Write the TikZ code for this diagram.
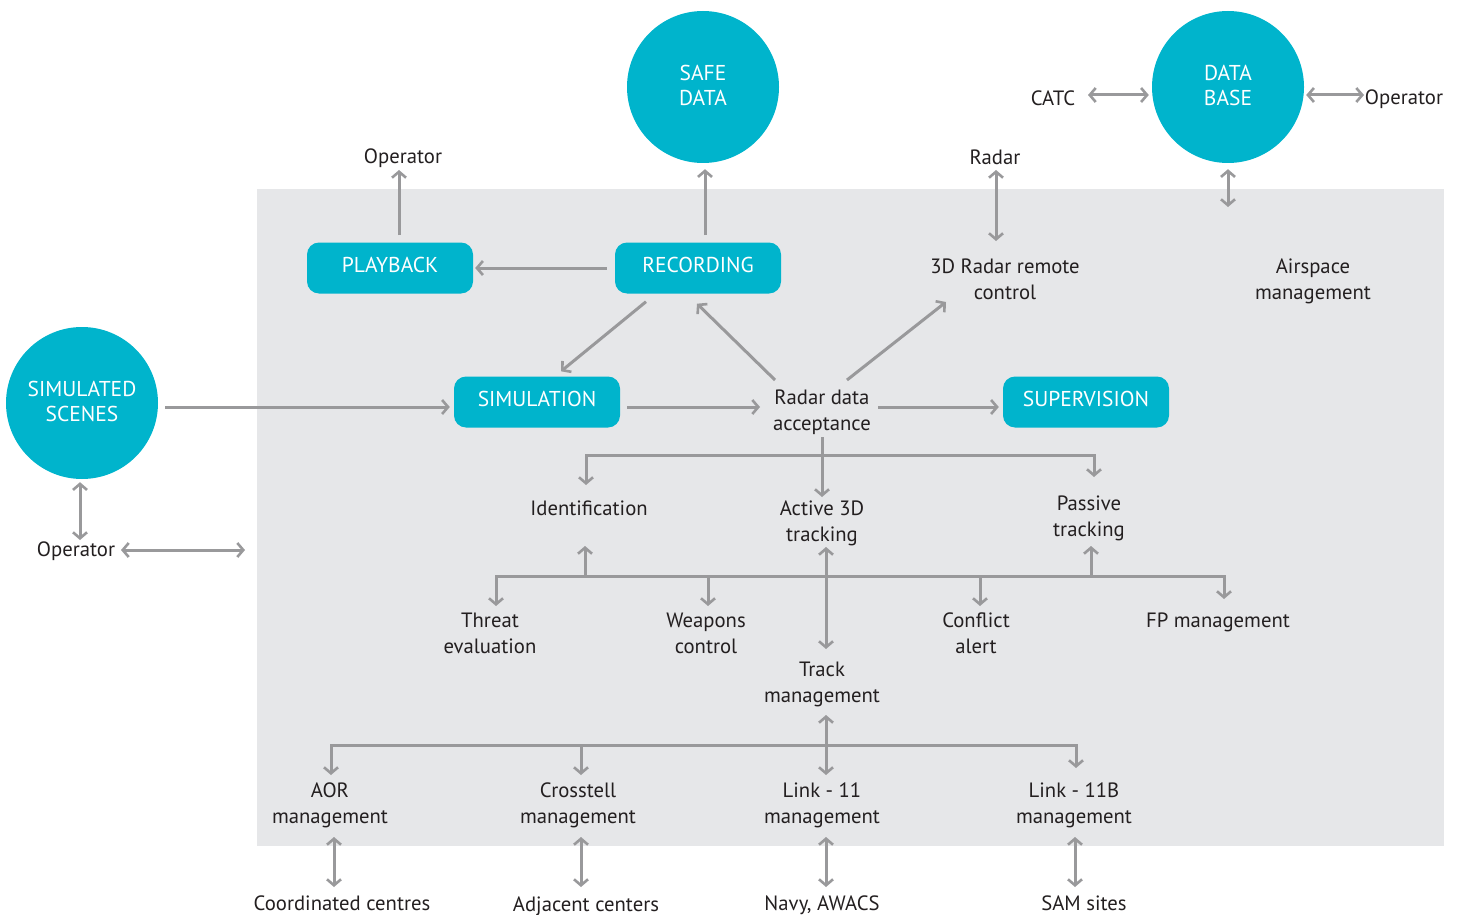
\documentclass[tikz,border=0pt]{standalone}
\usepackage{fontspec}
\setmainfont{PT Sans}
\usetikzlibrary{arrows.meta,calc}
\definecolor{teal}{RGB}{0,180,204}
\definecolor{bggray}{RGB}{230,231,233}
\definecolor{argray}{RGB}{153,153,155}
\definecolor{txt}{RGB}{35,31,32}
\tikzset{
  lbl/.style={inner sep=0pt, align=center, text=txt, font=\fontsize{20.7}{26}\selectfont},
  boxnode/.style={fill=teal, rounded corners=12pt, minimum width=166pt, minimum height=51pt, inner sep=0pt, text height=14pt, text depth=6pt, text=white, font=\fontsize{21.5}{26}\selectfont},
  circnode/.style={circle, fill=teal, minimum size=152pt, inner sep=0pt},
  circtext/.style={inner sep=0pt, align=center, text=white, font=\fontsize{21.5}{25}\selectfont},
  conn/.style={draw=argray, line width=3pt, -{Straight Barb[length=6pt,width=14pt,line width=2.6pt]}},
  bconn/.style={draw=argray, line width=3pt, {Straight Barb[length=6pt,width=14pt,line width=2.6pt]}-{Straight Barb[length=6pt,width=14pt,line width=2.6pt]}},
}
\begin{document}
\begin{tikzpicture}[x=1pt,y=-1pt]
\useasboundingbox (0,0) rectangle (1457,915);
\fill[bggray] (257,189) rectangle (1444,846);

% circles
\node[circnode] (safe) at (703,87) {};
\node[circtext] (safeT) at (703,85) {SAFE\\DATA};
\node[circnode] (db) at (1228,87) {};
\node[circtext] (dbT) at (1228,85) {DATA\\BASE};
\node[circnode] (sims) at (82,403) {};
\node[circtext] (simsT) at (82,401) {SIMULATED\\SCENES};

% boxes
\node[boxnode] (playback) at (390,268) {PLAYBACK};
\node[boxnode] (recording) at (698,268) {RECORDING};
\node[boxnode] (simulation) at (537,402) {SIMULATION};
\node[boxnode] (supervision) at (1086,402) {SUPERVISION};

% labels
\node[lbl] (opTop) at (403,158) {Operator};
\node[lbl] (radarTop) at (995,157) {Radar};
\node[lbl] (catc) at (1053,98) {CATC};
\node[lbl] (opRight) at (1404,99) {Operator};
\node[lbl] (rrc) at (1005,279) {3D Radar remote\\control};
\node[lbl] (airspace) at (1313,281) {Airspace\\management};
\node[lbl] (rda) at (822,412) {Radar data\\acceptance};
\node[lbl] (ident) at (589,508) {Identification};
\node[lbl] (active) at (822,523) {Active 3D\\tracking};
\node[lbl] (passive) at (1089,518) {Passive\\tracking};
\node[lbl] (threat) at (490,633) {Threat\\evaluation};
\node[lbl] (weapons) at (706,633) {Weapons\\control};
\node[lbl] (conflict) at (976,633) {Conflict\\alert};
\node[lbl] (fp) at (1218,622) {FP management};
\node[lbl] (track) at (822,684) {Track\\management};
\node[lbl] (aor) at (330,805) {AOR\\management};
\node[lbl] (cross) at (578,805) {Crosstell\\management};
\node[lbl] (link11) at (822,805) {Link - 11\\management};
\node[lbl] (link11b) at (1074,805) {Link - 11B\\management};
\node[lbl] (coord) at (342,903) {Coordinated centres};
\node[lbl] (adj) at (586,906) {Adjacent centers};
\node[lbl] (navy) at (822,905) {Navy, AWACS};
\node[lbl] (sam) at (1084,903) {SAM sites};
\node[lbl] (opLeft) at (76,551) {Operator};

\coordinate (dbEnd) at (1228,207);
\coordinate (opLeftEnd) at (245,550);

% top connectors
\draw[conn] ($(playback)+(9,-33)$) -- ($(opTop)+(-4,12)$);
\draw[conn] ($(recording)+(7,-33)$) -- ($(safe.south)+(2,6)$);
\draw[conn] ($(recording.west)+(-8,0)$) -- ($(playback.east)+(2,0)$);
\draw[conn] ($(recording.south)+(-52,8)$) -- ($(simulation.north)+(24,-5)$);
\draw[conn] ($(rda)+(-47,-32)$) -- ($(recording.south)+(-1,10)$);
\draw[conn] ($(rda)+(25,-32)$) -- ($(rrc)+(-59,23)$);
\draw[conn] ($(sims.east)+(7,4)$) -- ($(simulation.west)+(-4,5)$);
\draw[conn] ($(simulation.east)+(7,5)$) -- ($(rda)+(-62,-5)$);
\draw[conn] ($(rda)+(56,-5)$) -- ($(supervision.west)+(-4,5)$);
\draw[bconn] ($(radarTop)+(1,13)$) -- ($(rrc)+(-9,-38)$);
\draw[bconn] ($(db.south)+(0,6)$) -- (dbEnd);
\draw[bconn] ($(catc)+(35,-3)$) -- ($(db.west)+(-3,8)$);
\draw[bconn] ($(db.east)+(2,8)$) -- ($(opRight)+(-40,-4)$);
\draw[bconn] ($(sims.south)+(-2,3)$) -- ($(opLeft)+(4,-11)$);
\draw[bconn] ($(opLeft)+(45,-1)$) -- (opLeftEnd);

% tree 1
\draw[conn] ($(rda)+(0,25)$) -- ($(active)+(0,-26)$);
\draw[bconn] ($(ident)+(-3,-23)$) |- ($(rda)+(0,43)$) -| ($(passive)+(5,-41)$);

% tree 2
\draw[bconn] ($(threat)+(6,-27)$) |- ($(fp)+(6,-46)$) -- ($(fp)+(6,-23)$);
\draw[conn] ($(weapons)+(2,-57)$) -- ($(weapons)+(2,-27)$);
\draw[conn] ($(conflict)+(4,-57)$) -- ($(conflict)+(4,-27)$);
\draw[conn] ($(ident)+(-4,68)$) -- ($(ident)+(-4,38)$);
\draw[conn] ($(passive)+(2,58)$) -- ($(passive)+(2,28)$);
\draw[bconn] ($(active)+(4,24)$) -- ($(track)+(4,-35)$);

% tree 3
\draw[bconn] ($(aor)+(1,-30)$) |- ($(link11b)+(2,-60)$) -- ($(link11b)+(2,-37)$);
\draw[conn] ($(cross)+(3,-60)$) -- ($(cross)+(3,-30)$);
\draw[bconn] ($(track)+(4,31)$) -- ($(link11)+(4,-30)$);

% bottom
\draw[bconn] ($(aor)+(4,32)$) -- ($(coord)+(-8,-16)$);
\draw[bconn] ($(cross)+(3,32)$) -- ($(adj)+(-5,-19)$);
\draw[bconn] ($(link11)+(4,32)$) -- ($(navy)+(4,-18)$);
\draw[bconn] ($(link11b)+(1,32)$) -- ($(sam)+(-9,-16)$);
\end{tikzpicture}
\end{document}
